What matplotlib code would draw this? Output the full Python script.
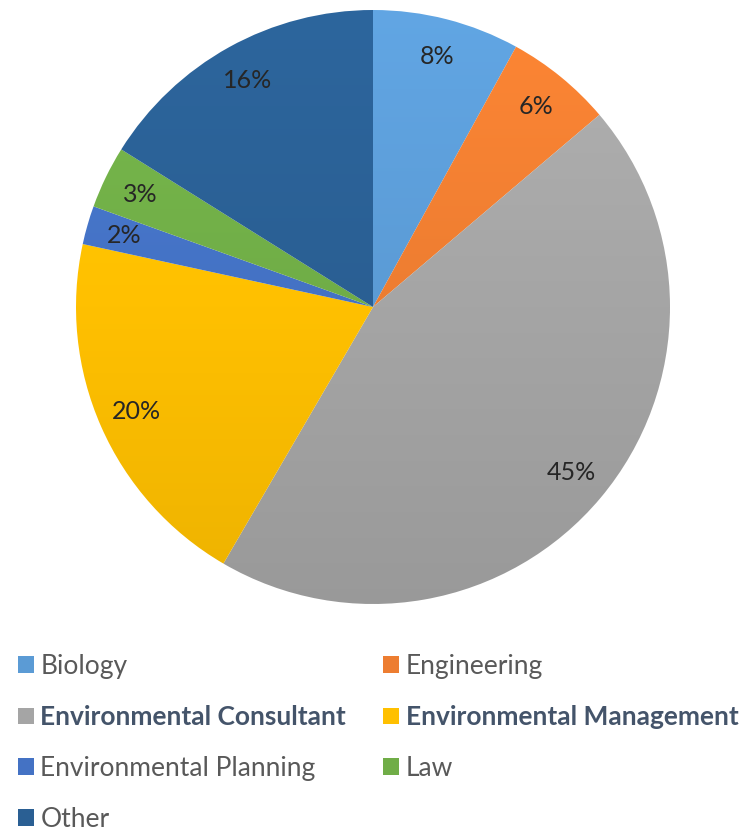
import numpy as np
import matplotlib.pyplot as plt
from matplotlib.colors import to_rgb
from matplotlib.patches import Patch

categories = ["Biology", "Engineering", "Environmental Consultant",
              "Environmental Management", "Environmental Planning", "Law", "Other"]
shares = [8.0, 5.8, 44.6, 20.0, 2.1, 3.4, 16.1]
colors = ["#5B9BD5", "#ED7D31", "#A5A5A5", "#FFC000", "#4472C4", "#70AD47", "#2A5F93"]
bold_items = ["Environmental Consultant", "Environmental Management"]

plt.rcParams['font.family'] = ['Lato', 'DejaVu Sans']

fig = plt.figure(figsize=(7.44, 8.36), dpi=100)
W, H = 744, 836
# pie box: centre (373, 307) px, radius 297 px
ax = fig.add_axes([(373 - 297) / W, (H - 307 - 297) / H, 594 / W, 594 / H])

wedges, texts, autotexts = ax.pie(shares, colors=colors, startangle=90, counterclock=False,
                                  autopct="%.0f%%", pctdistance=0.87,
                                  wedgeprops=dict(edgecolor="white", linewidth=0.6),
                                  textprops=dict(fontsize=18, color="#262626"))
ax.set_xlim(-1, 1)
ax.set_ylim(-1, 1)

# soft vertical gradient on each slice, lighter at the top
for w, c in zip(wedges, colors):
    base = np.array(to_rgb(c))
    t = np.linspace(1.07, 0.93, 200)[:, None]
    grad = np.clip(base[None, :] * t, 0, 1)[:, None, :]
    grad = np.repeat(grad, 2, axis=1)
    im = ax.imshow(grad, extent=(-1, 1, -1, 1), aspect='auto', zorder=w.get_zorder())
    im.set_clip_path(w)
    w.set_facecolor("none")
for t in autotexts:
    t.set_zorder(5)

# legend filled row by row like the reference
order = [0, 2, 4, 6, 1, 3, 5]
handles = [Patch(facecolor=colors[i]) for i in order]
labels = [categories[i] for i in order]
leg = fig.legend(handles, labels, ncol=2, loc="upper left", bbox_to_anchor=(18 / W, 1 - 654 / H),
                 frameon=False, fontsize=19, handlelength=0.6, handleheight=0.6,
                 handletextpad=0.25, labelspacing=1.0, columnspacing=1.4, borderpad=0,
                 borderaxespad=0)
for txt in leg.get_texts():
    if txt.get_text() in bold_items:
        txt.set_fontweight("bold")
        txt.set_color("#44546A")
    else:
        txt.set_color("#595959")

fig.savefig("out.png", dpi=100)
